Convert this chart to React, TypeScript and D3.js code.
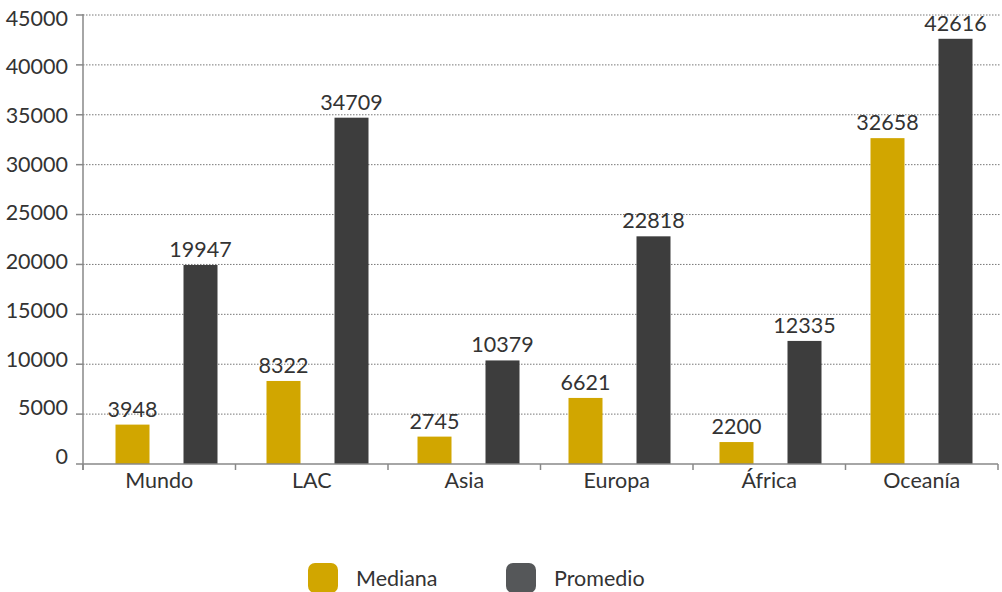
import React from "react";
import * as d3 from "d3";

const categories = ["Mundo", "LAC", "Asia", "Europa", "África", "Oceanía"];
const series = ["Mediana", "Promedio"];
const mediana = [3948, 8322, 2745, 6621, 2200, 32658];
const promedio = [19947, 34709, 10379, 22818, 12335, 42616];
const yTicks = [0, 5000, 10000, 15000, 20000, 25000, 30000, 35000, 40000, 45000];
const colors = ["#D1A600", "#3D3D3D"];
const legendColors = ["#D1A600", "#555759"];

const W = 1002;
const H = 592;
const FONT = "Lato, 'Open Sans', sans-serif";
const FS = 21.5;

export default function App() {
  const left = 83;
  const right = 998;
  const top = 15;
  const bottom = 464;

  const y = d3.scaleLinear().domain([0, 45000]).range([bottom, top]);
  const yLabel = d3.scaleLinear().domain([0, 45000]).range([456, 17.5]);
  const x = d3.scaleBand<string>().domain(categories).range([left, right]).padding(0);
  const xGroup = d3.scaleBand<string>().domain(categories).range([91, 997]).padding(0);
  const groupW = 102;
  const inner = d3
    .scaleBand<string>()
    .domain(series)
    .range([0, groupW])
    .paddingInner(0.5)
    .paddingOuter(0);
  const values = [mediana, promedio];

  return (
    <svg
      width={W}
      height={H}
      style={{ position: "absolute", left: 0, top: 0, display: "block" }}
      fontFamily={FONT}
    >
      <rect width={W} height={H} fill="#fff" />
      {/* gridlines */}
      {yTicks.map((t) =>
        t === 0 ? null : (
          <line
            key={"g" + t}
            x1={left}
            x2={1000}
            y1={y(t)}
            y2={y(t)}
            stroke="#777"
            strokeWidth={1}
            strokeDasharray="1.5,1.5"
          />
        )
      )}
      {/* y ticks and labels */}
      {yTicks.map((t) => (
        <g key={"t" + t}>
          <line x1={76} x2={left} y1={y(t)} y2={y(t)} stroke="#888" strokeWidth={1.5} />
          <text
            x={68}
            y={yLabel(t)}
            textAnchor="end"
            dominantBaseline="central"
            fontSize={FS}
            fill="#333"
          >
            {t}
          </text>
        </g>
      ))}
      {/* bars */}
      {categories.map((c, i) => {
        const gx = (xGroup(c) as number) + xGroup.bandwidth() / 2 - groupW / 2;
        return (
          <g key={c}>
            {series.map((s, j) => {
              const v = values[j][i];
              const bx = gx + (inner(s) as number);
              return (
                <g key={s}>
                  <rect
                    x={bx}
                    y={y(v)}
                    width={inner.bandwidth()}
                    height={bottom - y(v)}
                    fill={colors[j]}
                  />
                  <text
                    x={bx + inner.bandwidth() / 2}
                    y={y(v) - 8}
                    textAnchor="middle"
                    fontSize={FS}
                    fill="#333"
                  >
                    {v}
                  </text>
                </g>
              );
            })}
          </g>
        );
      })}
      {/* axes */}
      <line x1={left} x2={left} y1={top - 1} y2={bottom + 6} stroke="#888" strokeWidth={1.5} />
      <line x1={left} x2={right} y1={bottom} y2={bottom} stroke="#888" strokeWidth={1.5} />
      {[...categories.map((c) => x(c) as number), right].map((bx, i) => (
        <line key={"xt" + i} x1={bx} x2={bx} y1={bottom} y2={bottom + 6} stroke="#888" strokeWidth={1.5} />
      ))}
      {categories.map((c) => (
        <text
          key={"xl" + c}
          x={(x(c) as number) + x.bandwidth() / 2}
          y={488}
          textAnchor="middle"
          fontSize={FS}
          fill="#333"
        >
          {c}
        </text>
      ))}
      {/* legend */}
      {series.map((s, j) => {
        const lx = [308, 506][j];
        return (
          <g key={"lg" + s}>
            <rect x={lx} y={563} width={30} height={30} rx={7} fill={legendColors[j]} />
            <text x={lx + 48} y={586} fontSize={FS} fill="#333">
              {s}
            </text>
          </g>
        );
      })}
    </svg>
  );
}
